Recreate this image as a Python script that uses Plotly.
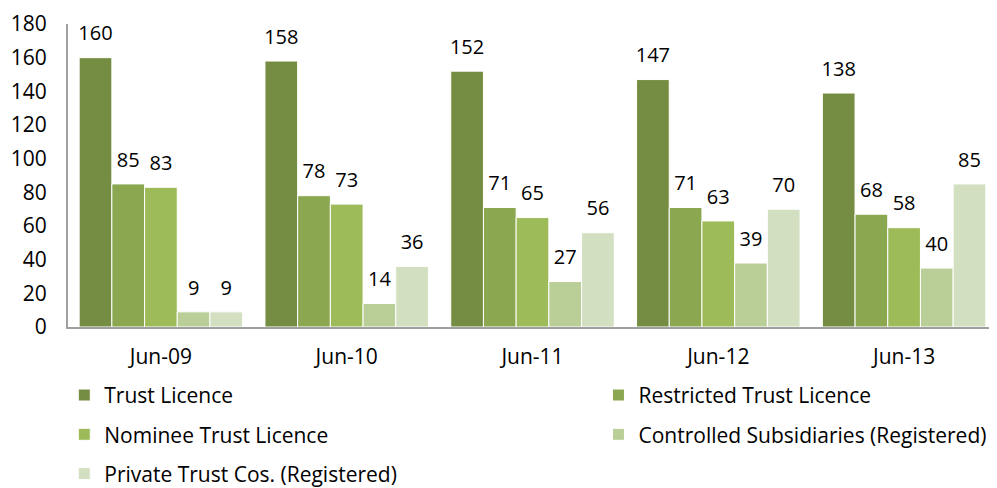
import plotly.graph_objects as go

# Daten
years = ['Jun-09', 'Jun-10', 'Jun-11', 'Jun-12', 'Jun-13']
trust_licence = [160, 158, 152, 147, 139]
restricted_trust = [85, 78, 71, 71, 67]
nominee_trust = [83, 73, 65, 63, 59]
controlled_subs = [9, 14, 27, 38, 35]
private_trust = [9, 36, 56, 70, 85]

# Beschriftungen wie im Original
trust_labels = [160, 158, 152, 147, 138]
restricted_labels = [85, 78, 71, 71, 68]
nominee_labels = [83, 73, 65, 63, 58]
controlled_labels = [9, 14, 27, 39, 40]
private_labels = [9, 36, 56, 70, 85]

# (Name, Werte, Beschriftung, Farbe, Legende)
series = [
    ('Trust Licence', trust_licence, trust_labels, '#758D42', 'legend'),
    ('Restricted Trust Licence', restricted_trust, restricted_labels, '#8BA750', 'legend2'),
    ('Nominee Trust Licence', nominee_trust, nominee_labels, '#9DBB59', 'legend'),
    ('Controlled Subsidiaries (Registered)', controlled_subs, controlled_labels, '#BACF97', 'legend2'),
    ('Private Trust Cos. (Registered)', private_trust, private_labels, '#D2DFC0', 'legend'),
]

font_name = 'Open Sans'
fs = 20

fig = go.Figure()
for i, (name, vals, labels, col, leg) in enumerate(series):
    fig.add_trace(go.Bar(
        x=years, y=vals, name=name, legend=leg, legendgroup=name,
        marker=dict(color=col, line=dict(color='white', width=1)),
        offsetgroup=str(i),
    ))

# Wertebeschriftungen ueber den Balken
for i, (name, vals, labels, col, leg) in enumerate(series):
    fig.add_trace(go.Scatter(
        x=years, y=vals, mode='markers+text', text=[str(v) for v in labels],
        textposition='top center', offsetgroup=str(i),
        marker=dict(size=18, opacity=0), showlegend=False, hoverinfo='skip',
        textfont=dict(family=font_name, size=fs, color='black'), cliponaxis=False,
    ))

fig.update_layout(
    barmode='group', bargap=0.12, bargroupgap=0,
    scattermode='group', scattergap=0.12,
    width=997, height=488,
    margin=dict(l=60, r=8, t=16, b=169, autoexpand=False),
    plot_bgcolor='white', paper_bgcolor='white',
    font=dict(family=font_name, size=fs, color='black'),
    legend=dict(
        x=-0.004, xanchor='left', y=-0.158, yanchor='top',
        font=dict(family=font_name, size=21), tracegroupgap=9,
    ),
    legend2=dict(
        x=0.571, xanchor='left', y=-0.158, yanchor='top',
        font=dict(family=font_name, size=21), tracegroupgap=9,
    ),
)
fig.update_xaxes(showline=True, linecolor='#A0A0A0', linewidth=2, ticks='',
                 ticklabelstandoff=10, automargin=False, tickfont=dict(size=21))
fig.update_yaxes(range=[0, 180], dtick=20, showline=True, linecolor='#A0A0A0', linewidth=2,
                 showgrid=False, zeroline=False, ticks='', ticklabelstandoff=15, automargin=False,
                 tickfont=dict(size=21))

fig.write_html('out.html')
